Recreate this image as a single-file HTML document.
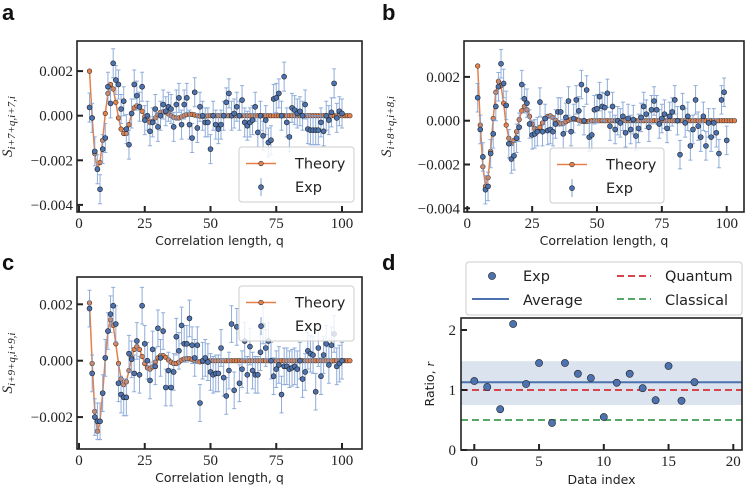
<!DOCTYPE html>
<html><head><meta charset="utf-8">
<style>
html,body{margin:0;padding:0;background:#fff;}
svg{display:block;}
.tick{font-family:"Liberation Serif",serif;font-size:15px;fill:#222;}
.lab{font-family:"DejaVu Sans","Liberation Sans",sans-serif;font-size:12.5px;fill:#222;}
.leg{font-family:"DejaVu Sans","Liberation Sans",sans-serif;font-size:14.5px;fill:#222;}
.pl{font-family:"Liberation Sans",sans-serif;font-weight:bold;font-size:22px;fill:#111;}
.yl{font-family:"Liberation Serif",serif;font-style:italic;fill:#222;}
</style></head>
<body>
<svg id="fig" width="751" height="490" viewBox="0 0 751 490" xmlns="http://www.w3.org/2000/svg"></svg>
<script>
// ---- data (correlation values in units of 1e-3) ----
const theoryA = [2.0,-0.1,-1.7,-2.4,-2.1,-1.1,0.1,1.0,1.4,1.2,0.6,-0.1,-0.6,-0.8,-0.8,-0.4,0.1,0.35,0.45,0.4,0.2,-0.05,-0.2,-0.3,-0.25,-0.1,0.05,0.15,0.18,0.15,0.08,0,-0.07,-0.1,-0.1,-0.05,0,0.05,0.07,0.06,0.03,0,-0.02,-0.03,-0.02,0,0,0,0,0,0,0,0,0,0,0,0,0,0,0,0,0,0,0,0,0,0,0,0,0,0,0,0,0,0,0,0,0,0,0,0,0,0,0,0,0,0,0,0,0,0,0,0,0,0,0,0,0,0,0];
const theoryB = [2.5,-0.2,-2.1,-3.0,-2.6,-1.4,0.1,1.3,1.8,1.6,0.8,-0.2,-0.8,-1.05,-0.9,-0.5,0.05,0.45,0.65,0.5,0.2,-0.15,-0.35,-0.4,-0.3,-0.1,0.1,0.2,0.22,0.15,0.02,-0.08,-0.13,-0.12,-0.05,0.02,0.07,0.08,0.06,0.02,-0.02,-0.04,-0.04,-0.02,0,0,0,0,0,0,0,0,0,0,0,0,0,0,0,0,0,0,0,0,0,0,0,0,0,0,0,0,0,0,0,0,0,0,0,0,0,0,0,0,0,0,0,0,0,0,0,0,0,0,0,0,0,0,0,0];
const theoryC = [2.05,-0.1,-1.8,-2.5,-2.15,-1.15,0.1,1.05,1.45,1.25,0.6,-0.1,-0.65,-0.85,-0.75,-0.35,0.1,0.4,0.5,0.4,0.15,-0.1,-0.25,-0.3,-0.22,-0.05,0.1,0.18,0.18,0.12,0.03,-0.05,-0.1,-0.1,-0.05,0.02,0.06,0.08,0.07,0.04,0,-0.03,-0.04,-0.03,-0.01,0,0,0,0,0,0,0,0,0,0,0,0,0,0,0,0,0,0,0,0,0,0,0,0,0,0,0,0,0,0,0,0,0,0,0,0,0,0,0,0,0,0,0,0,0,0,0,0,0,0,0,0,0,0,0];
const expA = [0.37,-0.1,-1.6,-2.4,-3.3,-1.5,-1.0,1.3,0.55,2.35,1.6,1.4,0.3,0.65,-0.6,-1.3,0.1,1.4,0.9,0.4,1.3,-0.2,0.0,-0.7,-0.3,0.3,-0.5,0.0,0.5,0.2,0.4,0.3,-0.5,0.5,0.8,-0.4,0.5,0.8,-0.4,-1.0,1.05,-0.55,0.4,0.0,-0.3,-0.3,-1.5,0.0,-0.4,-0.6,-0.4,0.0,0.6,1.0,0.0,0.1,0.4,0.0,0.7,-0.3,-0.45,-0.3,-0.2,0.4,-0.75,0.0,-0.9,-0.2,-1.2,-1.1,0.75,0.8,1.0,0.0,1.75,-0.3,-0.95,0.35,0.25,0.1,0.2,0.0,0.5,-0.6,-0.65,-0.65,-0.65,-0.65,-0.3,-0.7,0.0,-0.2,0.15,1.45,-0.1,0.2,0.1];
const expB = [1.05,-0.4,-1.65,-3.15,-3.0,-1.5,-0.6,0.65,1.55,2.6,1.7,0.7,-1.05,-1.75,-1.6,-0.8,-0.3,1.65,1.0,0.8,-0.15,-0.65,-0.6,-0.5,0.85,-0.5,0.1,-0.45,-0.4,-0.5,-0.15,0.4,0.4,-0.6,0.15,0.9,-0.5,0.1,0.95,0.45,1.65,0.0,1.4,-0.75,-0.65,0.5,0.55,1.1,0.65,0.6,1.25,-0.25,0.65,-0.4,0.0,-0.1,0.2,-0.55,0.1,-0.4,0.05,-0.7,-0.35,0.15,0.65,0.3,-0.3,0.5,0.9,0.5,-0.15,0.1,0.3,-0.35,0.2,0.4,0.95,0.0,-1.55,0.6,-0.1,0.2,-1.15,-0.4,0.95,-0.25,-0.75,0.2,-1.15,-0.1,-0.75,-0.1,-0.55,-1.5,0.95,1.3,-0.9];
const expC = [1.85,-0.45,-2.0,-2.15,-2.15,-1.15,0.1,1.05,1.65,1.95,1.3,-0.8,-1.2,-1.3,-1.3,0.25,0.05,-0.45,0.7,-0.5,1.95,0.6,0.0,-0.7,0.4,-0.2,1.15,0.1,1.05,-0.95,-0.35,-0.95,-0.4,0.85,0.35,1.25,0.6,0.6,1.5,0.55,0.1,0.55,-1.5,0.0,0.1,-0.05,-0.4,-0.5,-0.45,-0.45,0.45,-0.6,-1.25,-0.35,1.3,-1.05,1.2,-0.8,-0.3,0.7,-0.5,0.5,-0.35,-0.5,-0.5,0.3,1.25,0.45,0.7,0.0,-0.55,-0.3,-0.15,-1.2,-0.2,-0.2,-0.3,-0.25,-0.2,-0.3,0.0,-0.65,-0.4,0.35,0.25,0.2,-1.1,0.45,-0.55,0.2,0.6,-0.15,0.55,0.95,-0.2,-0.1,0.0];
const errA = 0.65, errB = 0.65, errC = 0.65;
const theoryQStart = 4, expQStart = 4;
const yTicksA = [-0.004,-0.002,0.000,0.002];
const yTicksC = [-0.002,0.000,0.002];
const xTicks = [0,25,50,75,100];
const ratioExp = [1.15,1.05,0.68,2.1,1.1,1.45,0.45,1.45,1.27,1.2,0.55,1.12,1.27,1.03,0.83,1.4,0.82,1.13];
const ratioAvg = 1.13, ratioLo = 0.75, ratioHi = 1.48, quantum = 1.0, classical = 0.5;
const dXTicks = [0,5,10,15,20];
const dYTicks = [0,1,2];

const NS = "http://www.w3.org/2000/svg";
const svg = document.getElementById('fig');
function el(tag, attrs, parent){
  const e = document.createElementNS(NS, tag);
  for (const k in attrs) e.setAttribute(k, attrs[k]);
  (parent||svg).appendChild(e);
  return e;
}
const ORANGE = "#e5804b", BLUE = "#4c72b0", EBLUE = "#7d9fd3", DARK = "#222";

function panel(cfg){
  const g = el('g', {});
  
  
  const X = v => cfg.x0 + (v - 0) * (cfg.x100 - cfg.x0) / 100;
  const Y = v => cfg.yz - v * cfg.ys;
  const cid = 'clip-' + cfg.name;
  const cp = el('clipPath', {id: cid}, g);
  el('rect', {x: cfg.L, y: cfg.T, width: cfg.R - cfg.L, height: cfg.B - cfg.T}, cp);
  const pg = el('g', {'clip-path': 'url(#' + cid + ')'}, g);
  let d = '';
  cfg.theory.forEach((v, i) => { d += (i ? 'L' : 'M') + X(theoryQStart + i).toFixed(1) + ' ' + Y(v).toFixed(1); });
  const tl = el('path', {d: d, fill: 'none', stroke: ORANGE, 'stroke-width': 1.5}, pg);
  
  
  cfg.theory.forEach((v, i) => {
    const c = el('circle', {cx: X(theoryQStart + i), cy: Y(v), r: 2.3, fill: ORANGE, stroke: '#333', 'stroke-width': 0.6}, pg);
    
    
  });
  cfg.exp.forEach((v, i) => {
    const x = X(expQStart + i), y1 = Y(v + cfg.err), y2 = Y(v - cfg.err);
    const eb = el('path', {d: `M${x} ${y1}L${x} ${y2}M${x-2} ${y1}L${x+2} ${y1}M${x-2} ${y2}L${x+2} ${y2}`, stroke: EBLUE, 'stroke-width': 1, fill: 'none', opacity: 0.85}, pg);
    
    
  });
  cfg.exp.forEach((v, i) => {
    const c = el('circle', {cx: X(expQStart + i), cy: Y(v), r: 2.5, fill: BLUE, stroke: '#222', 'stroke-width': 0.6}, pg);
    
    
  });
  el('rect', {x: cfg.L, y: cfg.T, width: cfg.R - cfg.L, height: cfg.B - cfg.T, fill: 'none', stroke: DARK, 'stroke-width': 1.6}, g);
  xTicks.forEach(t => {
    const x = X(t);
    el('line', {x1: x, x2: x, y1: cfg.B, y2: cfg.B - 6, stroke: DARK, 'stroke-width': 2}, g);
    const tx = el('text', {x: x, y: cfg.B + 16, 'text-anchor': 'middle', class: 'tick'}, g);
    tx.textContent = t;
    
    
  });
  cfg.yTicks.forEach(t => {
    const y = Y(t * 1000);
    el('line', {x1: cfg.L, x2: cfg.L + 6, y1: y, y2: y, stroke: DARK, 'stroke-width': 2}, g);
    const tx = el('text', {x: cfg.L - 4, y: y + 5, 'text-anchor': 'end', class: 'tick'}, g);
    tx.textContent = (t < 0 ? '\u2212' : '') + Math.abs(t).toFixed(3);
    
    
  });
  const xl = el('text', {x: (cfg.L + cfg.R) / 2, y: cfg.B + 33, 'text-anchor': 'middle', class: 'lab'}, g);
  xl.textContent = 'Correlation length, q';
  
  
  const yc = (cfg.T + cfg.B) / 2;
  const yl = el('text', {x: 0, y: 0, transform: `translate(${cfg.ylx},${yc}) rotate(-90)`, 'text-anchor': 'middle', class: 'yl', 'font-size': 15}, g);
  const t1 = el('tspan', {}, yl); t1.textContent = 'S';
  const t2 = el('tspan', {'font-size': 11, dy: 3}, yl); t2.textContent = cfg.sub;
  
  
  const pl = el('text', {x: cfg.px, y: cfg.py, class: 'pl'}, g);
  pl.textContent = cfg.letter;
  
  
  const lg = el('g', {}, g);
  
  
  const [lx, ly, lw, lh] = cfg.leg;
  el('rect', {x: lx, y: ly, width: lw, height: lh, rx: 3, fill: 'rgba(255,255,255,0.8)', stroke: '#ccc', 'stroke-width': 1}, lg);
  const r1 = ly + lh * 0.3, r2 = ly + lh * 0.73;
  el('line', {x1: lx + 7, x2: lx + 37, y1: r1, y2: r1, stroke: ORANGE, 'stroke-width': 1.5}, lg);
  el('circle', {cx: lx + 22, cy: r1, r: 2.3, fill: ORANGE, stroke: '#333', 'stroke-width': 0.6}, lg);
  const lt1 = el('text', {x: lx + 56, y: r1 + 5, class: 'leg'}, lg); lt1.textContent = 'Theory';
  
  
  el('line', {x1: lx + 22, x2: lx + 22, y1: r2 - 9, y2: r2 + 9, stroke: EBLUE, 'stroke-width': 1}, lg);
  el('circle', {cx: lx + 22, cy: r2, r: 2.5, fill: BLUE, stroke: '#222', 'stroke-width': 0.6}, lg);
  const lt2 = el('text', {x: lx + 56, y: r2 + 5, class: 'leg'}, lg); lt2.textContent = 'Exp';
  
  
}

panel({name:'panel-a', letter:'a', px:2, py:20, L:77, R:362, T:41, B:212, x0:79, x100:342, yz:115.7, ys:22.3,
  theory: theoryA, exp: expA, err: errA, yTicks: yTicksA, sub: 'i+7+q,i+7,i', ylx: 12, leg:[239,147,115,55]});
panel({name:'panel-b', letter:'b', px:382, py:20, L:464, R:744, T:41, B:212, x0:467.3, x100:726.7, yz:120.7, ys:21.9,
  theory: theoryB, exp: expB, err: errB, yTicks: yTicksA, sub: 'i+8+q,i+8,i', ylx: 391, leg:[550,148,114,55]});
panel({name:'panel-c', letter:'c', px:2, py:270, L:77, R:362, T:277, B:449, x0:79, x100:342, yz:360.7, ys:28.2,
  theory: theoryC, exp: expC, err: errC, yTicks: yTicksC, sub: 'i+9+q,i+9,i', ylx: 12, leg:[239,286,115,55]});

(function(){
  const g = el('g', {});
  
  
  const L = 461, R = 742, T = 318, B = 450;
  const X = v => 474.3 + v * (733.3 - 474.3) / 20;
  const Y = v => 450 - v * 60;
  const band = el('rect', {x: L, y: Y(ratioHi), width: R - L, height: Y(ratioLo) - Y(ratioHi), fill: '#4c72b0', opacity: 0.2}, g);
  
  
  const avg = el('line', {x1: L, x2: R, y1: Y(ratioAvg), y2: Y(ratioAvg), stroke: BLUE, 'stroke-width': 2}, g);
  
  
  const q = el('line', {x1: L, x2: R, y1: Y(quantum), y2: Y(quantum), stroke: '#d6444c', 'stroke-width': 2, 'stroke-dasharray': '7,4'}, g);
  
  
  const c = el('line', {x1: L, x2: R, y1: Y(classical), y2: Y(classical), stroke: '#55a868', 'stroke-width': 2, 'stroke-dasharray': '7,4'}, g);
  
  
  ratioExp.forEach((v, i) => {
    const p = el('circle', {cx: X(i), cy: Y(v), r: 3.6, fill: BLUE, stroke: '#222', 'stroke-width': 0.6}, g);
    
    
  });
  el('rect', {x: L, y: T, width: R - L, height: B - T, fill: 'none', stroke: DARK, 'stroke-width': 1.6}, g);
  dXTicks.forEach(t => {
    el('line', {x1: X(t), x2: X(t), y1: B, y2: B - 6, stroke: DARK, 'stroke-width': 2}, g);
    const tx = el('text', {x: X(t), y: B + 16, 'text-anchor': 'middle', class: 'tick'}, g);
    tx.textContent = t;
    
    
  });
  dYTicks.forEach(t => {
    el('line', {x1: L, x2: L + 6, y1: Y(t), y2: Y(t), stroke: DARK, 'stroke-width': 2}, g);
    const tx = el('text', {x: L - 5, y: Y(t) + 5, 'text-anchor': 'end', class: 'tick'}, g);
    tx.textContent = t;
    
    
  });
  const xl = el('text', {x: (L + R) / 2, y: B + 34, 'text-anchor': 'middle', class: 'lab'}, g);
  xl.textContent = 'Data index';
  
  
  const yl = el('text', {x: 0, y: 0, transform: `translate(${434},${(T + B) / 2}) rotate(-90)`, 'text-anchor': 'middle', class: 'lab'}, g);
  yl.innerHTML = 'Ratio, <tspan font-family="Liberation Serif, serif" font-style="italic">r</tspan>';
  
  
  const pl = el('text', {x: 382, y: 270, class: 'pl'}, g);
  pl.textContent = 'd';
  
  
  const lg = el('g', {}, g);
  
  
  el('rect', {x: 466, y: 262, width: 276, height: 53, rx: 3, fill: '#fff', stroke: '#ccc', 'stroke-width': 1}, lg);
  el('circle', {cx: 492, cy: 276, r: 3.6, fill: BLUE, stroke: '#222', 'stroke-width': 0.6}, lg);
  el('line', {x1: 472, x2: 509, y1: 299, y2: 299, stroke: BLUE, 'stroke-width': 2}, lg);
  el('line', {x1: 617, x2: 651, y1: 276, y2: 276, stroke: '#d6444c', 'stroke-width': 2, 'stroke-dasharray': '7,4'}, lg);
  el('line', {x1: 617, x2: 651, y1: 299, y2: 299, stroke: '#55a868', 'stroke-width': 2, 'stroke-dasharray': '7,4'}, lg);
  [['Exp',523,281],['Average',523,305],['Quantum',665,281],['Classical',665,305]].forEach(a => {
    const t = el('text', {x: a[1], y: a[2], class: 'leg'}, lg);
    t.textContent = a[0];
    
    
  });
})();
</script>
</body></html>
